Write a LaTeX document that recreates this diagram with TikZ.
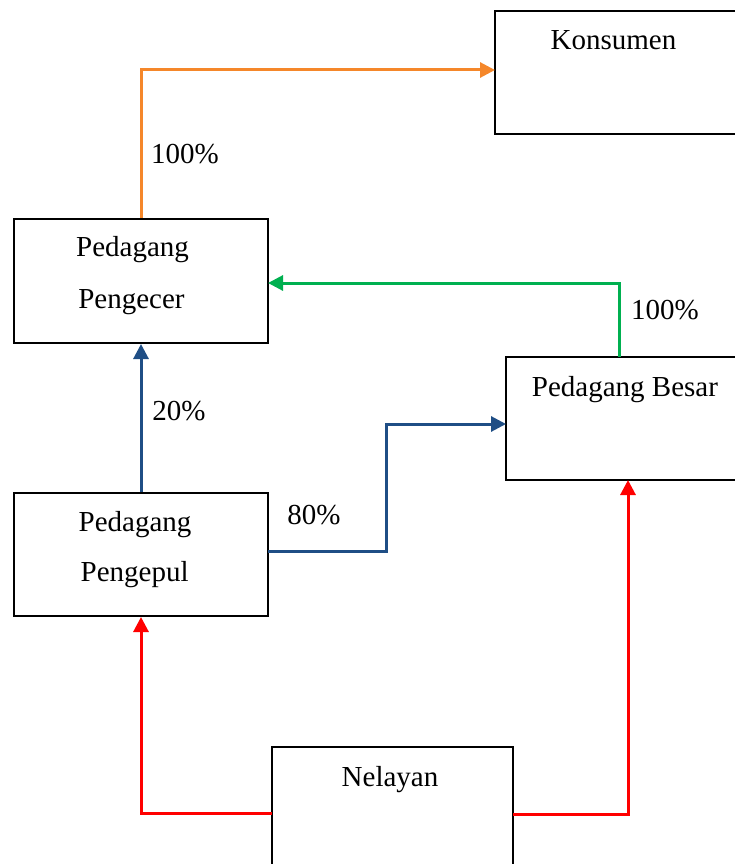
\documentclass[tikz,border=0pt]{standalone}
\usepackage{fontspec}
\setmainfont{Liberation Serif}
\usetikzlibrary{arrows.meta}
\definecolor{flowOrange}{HTML}{F5872A}
\definecolor{flowGreen}{HTML}{00B050}
\definecolor{flowBlue}{HTML}{1F4E85}
\definecolor{flowRed}{HTML}{FF0000}
\tikzset{
  box/.style={draw=black, line width=2pt, rectangle, inner sep=0pt},
  lbl/.style={inner sep=0pt, anchor=base, font=\fontsize{29}{34}\selectfont},
  flow/.style={line width=3pt, -{Triangle[length=15pt,width=15pt]}},
}
\begin{document}
\begin{tikzpicture}[x=1pt,y=-1pt]
\useasboundingbox (0,0) rectangle (735,864);
\begin{scope}
\clip (0,0) rectangle (735,864);
% boxes
\node[box, minimum width=254pt, minimum height=124pt] (pengecer) at (141,281) {};
\node[box, minimum width=254pt, minimum height=123pt] (pengepul) at (141,554.5) {};
\node[box, minimum width=250pt, minimum height=123pt] (konsumen) at (620,72.5) {};
\node[box, minimum width=240pt, minimum height=123pt] (besar) at (626,418.5) {};
\node[box, minimum width=241pt, minimum height=130pt] (nelayan) at (392.5,812) {};
\end{scope}
% box texts
\node[lbl] (tKonsumen) at (613.5,50) {Konsumen};
\node[lbl] (tPengecer1) at (132.5,256.7) {Pedagang};
\node[lbl] (tPengecer2) at (131.5,308) {Pengecer};
\node[lbl] (tBesar) at (625,396) {Pedagang Besar};
\node[lbl] (tPengepul1) at (135,531.7) {Pedagang};
\node[lbl] (tPengepul2) at (134.7,581.7) {Pengepul};
\node[lbl] (tNelayan) at (390,786.7) {Nelayan};
% share labels
\node[lbl] (p100a) at (185,163) {100\%};
\node[lbl] (p100b) at (665,319) {100\%};
\node[lbl] (p20) at (179,420) {20\%};
\node[lbl] (p80) at (314,524) {80\%};
% connector end points
\coordinate (kIn) at (495,70);
\coordinate (gOut) at (619,357);
\coordinate (gIn) at (268,283);
\coordinate (bOut) at (268,551);
\coordinate (bBend) at (386,424);
\coordinate (bIn) at (506,424);
\coordinate (rOutL) at (272,813);
\coordinate (rOutR) at (513,814);
\coordinate (rIn) at (628,480);
% flows
\draw[flow, flowOrange] (pengecer.north) |- (kIn);
\draw[flow, flowGreen] (gOut) |- (gIn);
\draw[flow, flowBlue] (pengepul.north) -- (pengecer.south);
\draw[flow, flowBlue] (bOut) -| (bBend) -- (bIn);
\draw[flow, flowRed] (rOutL) -| (pengepul.south);
\draw[flow, flowRed] (rOutR) -| (rIn);
\end{tikzpicture}
\end{document}
